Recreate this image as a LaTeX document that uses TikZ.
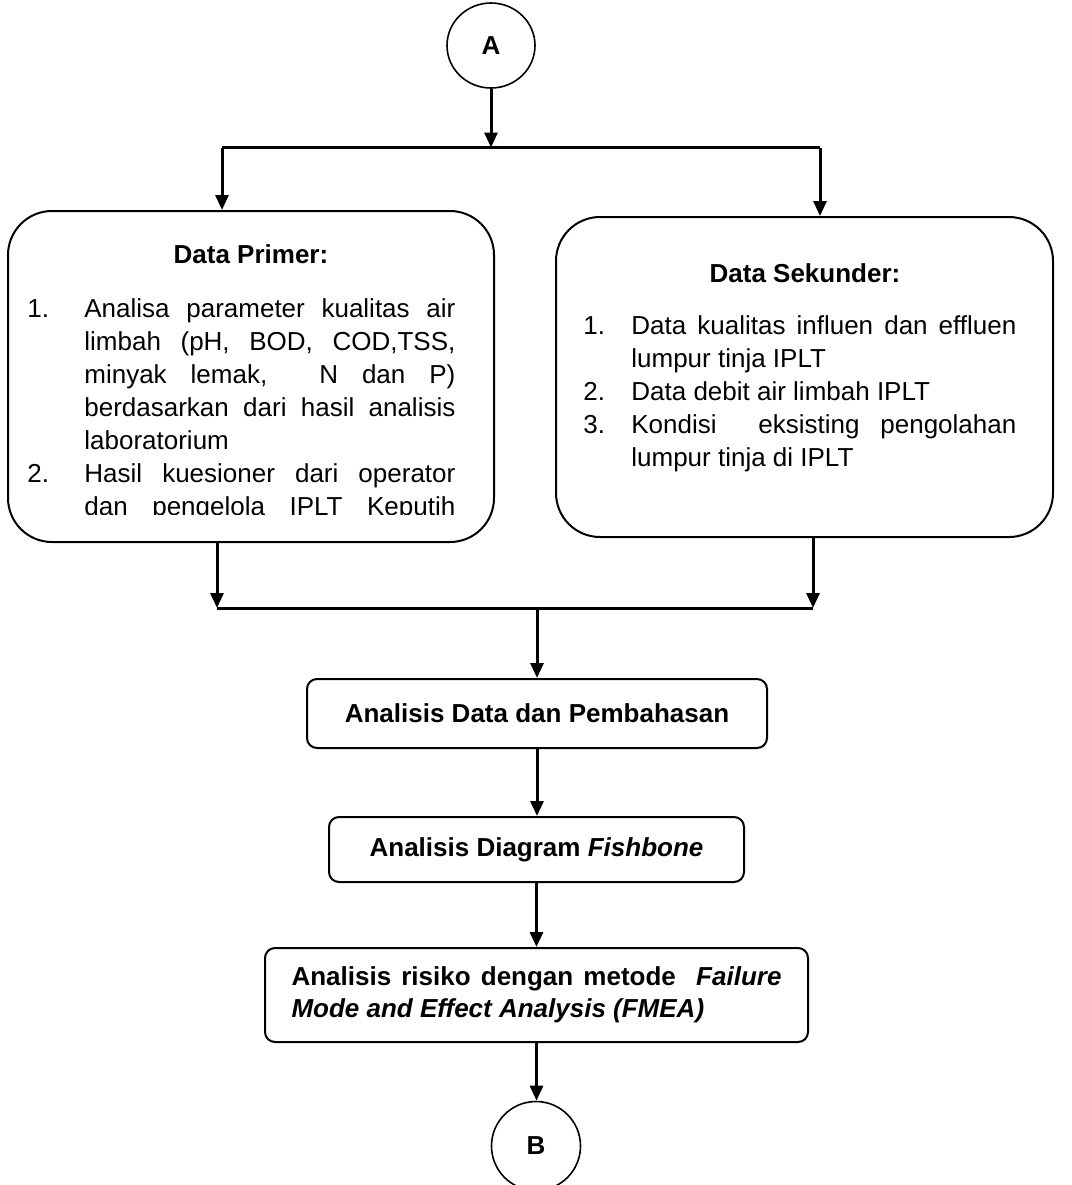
\documentclass[tikz,border=0pt]{standalone}
\usepackage{fontspec}
\setmainfont{Liberation Sans}
\usetikzlibrary{arrows.meta,shapes.geometric}
\newcommand{\hitem}[2]{\hangindent=#1\hangafter=1\noindent\makebox[#1][l]{#2}}
\begin{document}
\begin{tikzpicture}[x=0.5pt,y=-0.5pt,
  font=\fontsize{13}{16.5}\selectfont,
  conn/.style={line width=1.5pt,-{Triangle[length=7.5pt,width=6.5pt]}},
  plainline/.style={line width=1.5pt},
  bigbox/.style={draw,line width=1pt,rounded corners=22pt,inner sep=0pt},
  stepbox/.style={draw,line width=1pt,rounded corners=5pt,inner sep=0pt,
    font=\bfseries\fontsize{13}{16}\selectfont},
  connector/.style={draw,ellipse,line width=0.8pt,inner sep=0pt,
    font=\bfseries\fontsize{13}{16}\selectfont},
  listtxt/.style={inner sep=0pt,align=justify},
  title/.style={inner sep=0pt,font=\bfseries\fontsize{13}{16.5}\selectfont}]
\useasboundingbox (0,0) rectangle (1072,1185);

% connectors A and B
\node[connector,minimum width=44pt,minimum height=42.5pt] (A) at (491,45.5) {A};
\node[connector,minimum width=44.5pt,minimum height=44.5pt] (B) at (536,1146) {B};

% big boxes
\node[bigbox,minimum width=243pt,minimum height=165.5pt] (lbox) at (251,376.5) {};
\node[bigbox,minimum width=248.5pt,minimum height=160pt] (rbox) at (804.5,377) {};

\node[title] (ltitle) at (251,254) {Data Primer:};
\node[title] (rtitle) at (805,273) {Data Sekunder:};

\begin{scope}
\clip (0,0) rectangle (1072,514);
\node[listtxt,text width=214pt,anchor=base west] (llist) at (27,317) {%
\hitem{28.5pt}{1.}Analisa parameter kualitas air\linebreak
limbah (pH, BOD, COD,TSS,\linebreak
minyak lemak, \ N dan P)\linebreak
berdasarkan dari hasil analisis\linebreak
laboratorium\par
\hitem{28.5pt}{2.}Hasil kuesioner dari operator\linebreak
dan pengelola IPLT Keputih\parfillskip=0pt\relax\par};
\end{scope}

\node[listtxt,text width=216.5pt,anchor=base west] (rlist) at (583,334) {%
\hitem{24pt}{1.}Data kualitas influen dan effluen\linebreak
lumpur tinja IPLT\par
\hitem{24pt}{2.}Data debit air limbah IPLT\par
\hitem{24pt}{3.}Kondisi \ eksisting pengolahan\linebreak
lumpur tinja di IPLT\par};

% step boxes
\node[stepbox,minimum width=230pt,minimum height=34.5pt] (b1) at (537,713.5) {Analisis Data dan Pembahasan};
\node[stepbox,minimum width=207.5pt,minimum height=32.5pt] (b2) at (536.5,849.5) {Analisis Diagram \textit{Fishbone}};
\node[stepbox,text width=245pt,inner xsep=13.25pt,minimum height=47pt,align=justify,
  font=\bfseries\fontsize{13}{16}\selectfont] (b3) at (536.5,995)
  {Analisis risiko dengan metode \ \textit{Failure}\linebreak
   \textit{Mode and Effect Analysis (FMEA)}};

% junction coordinates
\coordinate (tl) at (222,147.5);
\coordinate (tm) at (491,147.5);
\coordinate (tr) at (820,147.5);
\coordinate (bl) at (217,608);
\coordinate (bm) at (537,608);
\coordinate (br) at (813,608);

% top split
\draw[conn] (A) -- (tm);
\draw[plainline] (tl) -- (tr);
\draw[conn] (tl) -- (tl |- lbox.north);
\draw[conn] (tr) -- (tr |- rbox.north);

% bottom join
\draw[conn] (lbox.south -| bl) -- (bl);
\draw[conn] (rbox.south -| br) -- (br);
\draw[plainline] (bl) -- (br);
\draw[conn] (bm) -- (bm |- b1.north);

% chain
\draw[conn] (b1.south) -- (b1.south |- b2.north);
\draw[conn] (b2.south) -- (b2.south |- b3.north);
\draw[conn] (b3.south) -- (b3.south |- B.north);
\end{tikzpicture}
\end{document}
